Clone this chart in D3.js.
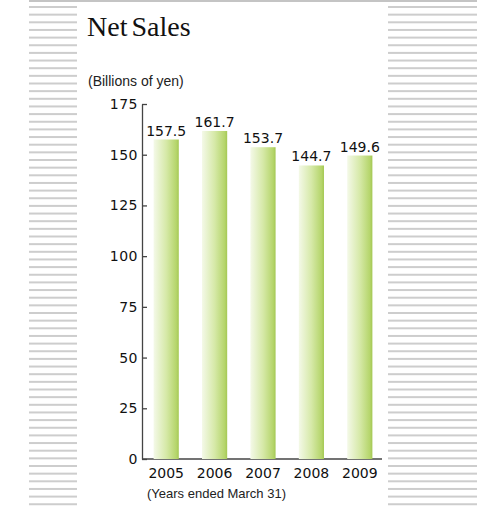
<!DOCTYPE html>
<html>
<head>
<meta charset="utf-8">
<script src="https://cdn.jsdelivr.net/npm/d3@7"></script>
<style>
  body { margin: 0; background: #fff; }
</style>
</head>
<body>
<div id="chart"></div>
<script>
// data
var years = ["2005", "2006", "2007", "2008", "2009"]
var sales = [157.5, 161.7, 153.7, 144.7, 149.6]
var tickValues = [0, 25, 50, 75, 100, 125, 150, 175]

var W = 477, H = 511

var svg = d3.select("#chart")
  .append("svg")
  .attr("width", W)
  .attr("height", H)

// gradient for the bars
var defs = svg.append("defs")
var grad = defs.append("linearGradient")
  .attr("id", "barGrad")
  .attr("x1", "0%").attr("x2", "100%")
  .attr("y1", "0%").attr("y2", "0%")
grad.append("stop").attr("offset", "0%").attr("stop-color", "#f4f9e8")
grad.append("stop").attr("offset", "50%").attr("stop-color", "#d6e9a8")
grad.append("stop").attr("offset", "90%").attr("stop-color", "#b5d56b")
grad.append("stop").attr("offset", "100%").attr("stop-color", "#a4c854")

// decorative stripes on both sides
var stripeY = d3.range(7, 509, 7.65)
svg.append("g").selectAll("rect.l")
  .data(stripeY).enter().append("rect")
  .attr("x", 29).attr("width", 48)
  .attr("y", function(d) { return d - 1 })
  .attr("height", 2)
  .style("fill", "#cdcdcd")
svg.append("g").selectAll("rect.r")
  .data(stripeY).enter().append("rect")
  .attr("x", 388).attr("width", 89)
  .attr("y", function(d) { return d - 1 })
  .attr("height", 2)
  .style("fill", "#cdcdcd")

// top rule
svg.append("rect")
  .attr("x", 29).attr("y", 0)
  .attr("width", W - 29).attr("height", 2)
  .style("fill", "#c4c4c4")

// title
svg.append("text")
  .attr("x", 87).attr("y", 36)
  .style("font-family", "'Liberation Serif', serif")
  .style("font-size", "28px")
  .style("word-spacing", "-3px")
  .style("fill", "#111")
  .text("Net Sales")

svg.append("text")
  .attr("x", 88).attr("y", 86)
  .style("font-family", "'Liberation Sans', Arial, sans-serif")
  .style("font-size", "14px")
  .style("fill", "#222")
  .text("(Billions of yen)")

// scales
var y = d3.scaleLinear()
  .domain([0, 175])
  .range([459, 104])

var x = d3.scaleBand()
  .domain(years)
  .range([142, 384])
  .paddingInner(0.48)
  .paddingOuter(0.24)

// baseline
svg.append("line")
  .attr("x1", 142).attr("x2", 382)
  .attr("y1", y(0)).attr("y2", y(0))
  .style("stroke", "#444")
  .style("stroke-width", 1.3)

// y axis
var yAxis = svg.append("g")
  .attr("transform", "translate(142,0)")
  .call(d3.axisLeft(y)
    .tickValues(tickValues)
    .tickSizeInner(-5)
    .tickSizeOuter(0)
    .tickPadding(4))
yAxis.select(".domain").style("stroke", "#444").style("stroke-width", 1.3)
yAxis.selectAll(".tick line").style("stroke", "#444").style("stroke-width", 1.3)
yAxis.selectAll(".tick text")
  .style("font-family", "'DejaVu Sans', sans-serif")
  .style("font-size", "14px")
  .style("letter-spacing", "0.5px")
  .style("fill", "#111")

// bars
svg.append("g").selectAll("rect")
  .data(sales).enter().append("rect")
  .attr("x", function(d, i) { return x(years[i]) })
  .attr("width", x.bandwidth())
  .attr("y", function(d) { return y(d) })
  .attr("height", function(d) { return y(0) - y(d) })
  .style("fill", "url(#barGrad)")

// value labels
svg.append("g").selectAll("text")
  .data(sales).enter().append("text")
  .attr("x", function(d, i) { return x(years[i]) + x.bandwidth() / 2 })
  .attr("y", function(d) { return y(d) - 4 })
  .attr("text-anchor", "middle")
  .style("font-family", "'DejaVu Sans', sans-serif")
  .style("font-size", "14px")
  .style("fill", "#111")
  .text(function(d) { return d.toFixed(1) })

// year labels
svg.append("g").selectAll("text")
  .data(years).enter().append("text")
  .attr("x", function(d) { return x(d) + x.bandwidth() / 2 })
  .attr("y", 478)
  .attr("text-anchor", "middle")
  .style("font-family", "'DejaVu Sans', sans-serif")
  .style("font-size", "14px")
  .style("fill", "#111")
  .text(function(d) { return d })

svg.append("text")
  .attr("x", 147).attr("y", 498)
  .style("font-family", "'Liberation Sans', Arial, sans-serif")
  .style("font-size", "13px")
  .style("fill", "#222")
  .text("(Years ended March 31)")
</script>
</body>
</html>
